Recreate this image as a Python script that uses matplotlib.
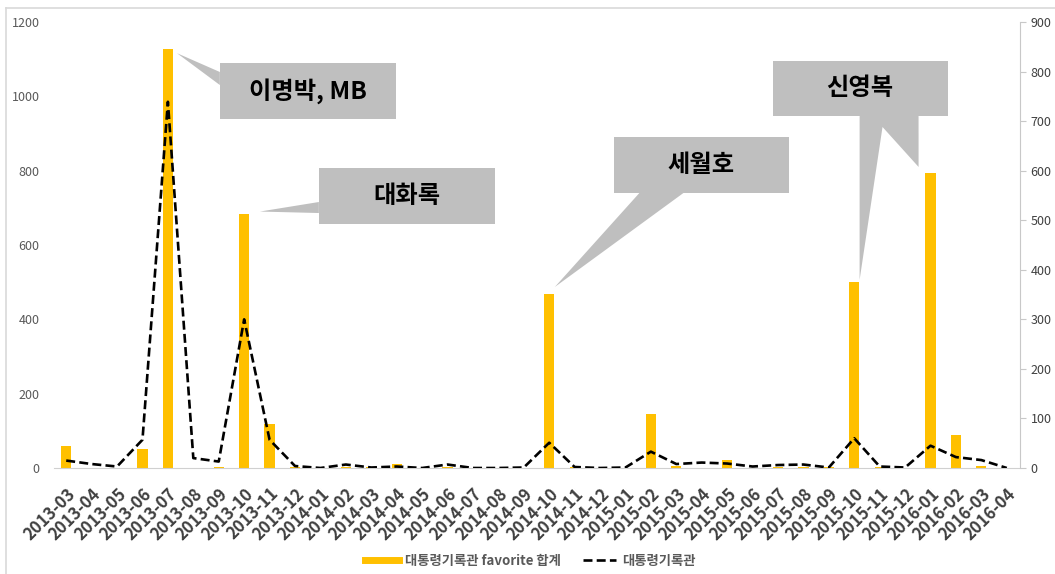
import matplotlib
matplotlib.use("Agg")
import matplotlib.pyplot as plt
from matplotlib.patches import Rectangle, Polygon
from matplotlib.lines import Line2D

plt.rcParams['font.family'] = ['Noto Sans CJK KR', 'DejaVu Sans']

months = ["2013-03", "2013-04", "2013-05", "2013-06", "2013-07", "2013-08", "2013-09",
          "2013-10", "2013-11", "2013-12", "2014-01", "2014-02", "2014-03", "2014-04",
          "2014-05", "2014-06", "2014-07", "2014-08", "2014-09", "2014-10", "2014-11",
          "2014-12", "2015-01", "2015-02", "2015-03", "2015-04", "2015-05", "2015-06",
          "2015-07", "2015-08", "2015-09", "2015-10", "2015-11", "2015-12", "2016-01",
          "2016-02", "2016-03", "2016-04"]
favorite_sum = [58, 0, 0, 51, 1128, 0, 3, 683, 119, 2, 0, 2, 3, 12, 0, 2, 0, 0, 1, 468,
                2, 0, 0, 145, 6, 0, 21, 0, 4, 2, 2, 500, 2, 0, 794, 90, 5, 1]
archive_count = [15, 8, 3, 57, 739, 20, 13, 300, 57, 4, 0, 7, 1, 3, 0, 7, 0, 0, 1, 51,
                 2, 0, 1, 33, 8, 11, 9, 3, 6, 7, 1, 60, 3, 1, 45, 22, 16, 0]
bar_label = "대통령기록관 favorite 합계"
line_label = "대통령기록관"
left_ticks = [0, 200, 400, 600, 800, 1000, 1200]
right_ticks = [0, 100, 200, 300, 400, 500, 600, 700, 800, 900]

# callouts: text, box (axes fraction x0,y0,x1,y1), pointer vertices
# ("a", fx, fy) = axes fraction, ("d", category index, left-axis value) = data
callouts = [
    ("이명박, MB", (0.1722, 0.7825, 0.3543, 0.9081),
     [("a", 0.1722, 0.8879), ("d", 4.36, 1116), ("a", 0.1722, 0.8587)]),
    ("대화록", (0.2747, 0.5471, 0.4568, 0.6726),
     [("a", 0.2747, 0.5964), ("d", 7.62, 690), ("a", 0.2747, 0.5717)]),
    ("세월호", (0.5799, 0.6166, 0.7610, 0.7422),
     [("a", 0.6065, 0.6166), ("d", 19.22, 487), ("a", 0.6521, 0.6166)]),
    ("신영복", (0.7444, 0.7892, 0.9255, 0.9126),
     [("a", 0.8345, 0.7892), ("d", 31.21, 506), ("a", 0.8582, 0.7646),
      ("d", 33.53, 810), ("a", 0.8955, 0.7892)]),
]

W, H = 1055, 574
fig = plt.figure(figsize=(W / 100, H / 100), dpi=100)
ax = fig.add_axes([53.5 / W, (H - 468) / H, (1019.5 - 53.5) / W, 446 / H])
ax2 = ax.twinx()

n = len(months)
x = list(range(n))
ax.bar(x, favorite_sum, width=0.4, color="#FFC000", zorder=2)
ax2.plot(x, archive_count, color="black", lw=1.9, linestyle=(0, (3.4, 1.6)), zorder=3)

ax.set_xlim(-0.5, n - 0.5)
ax.set_ylim(0, 1200)
ax2.set_ylim(0, 900)
ax.set_yticks(left_ticks)
ax2.set_yticks(right_ticks)

for a in (ax, ax2):
    for s in a.spines.values():
        s.set_visible(False)
ax.spines['bottom'].set_visible(True)
ax.spines['bottom'].set_color("#D0D0D0")
ax2.spines['right'].set_visible(True)
ax2.spines['right'].set_color("#C8C8C8")

ax.tick_params(axis='y', length=0, pad=10, labelsize=9, labelcolor="#595959")
ax2.tick_params(axis='y', length=4, color="#C8C8C8", pad=4, labelsize=9, labelcolor="#404040")
ax.set_xticks(x)
ax.set_xticklabels(months, rotation=45, ha='right', rotation_mode='anchor',
                   fontsize=12, fontweight='heavy', color="#404040")
ax.tick_params(axis='x', length=0, pad=12)

ax2.set_zorder(ax.get_zorder() + 1)
ax2.patch.set_visible(False)

def to_frac(p):
    kind, a, b = p
    if kind == "a":
        return (a, b)
    return ((a + 0.5) / n, b / 1200.0)

for text, (x0, y0, x1, y1), pts in callouts:
    ax2.add_patch(Rectangle((x0, y0), x1 - x0, y1 - y0, transform=ax2.transAxes,
                            facecolor="#BFBFBF", edgecolor="none", zorder=5, clip_on=False))
    ax2.add_patch(Polygon([to_frac(p) for p in pts], closed=True, transform=ax2.transAxes,
                          facecolor="#BFBFBF", edgecolor="none", zorder=5, clip_on=False))
    ax2.text((x0 + x1) / 2, (y0 + y1) / 2, text, transform=ax2.transAxes, ha='center',
             va='center', fontsize=17.5, fontweight='heavy', color="black", zorder=6)

handles = [Line2D([], [], color="#FFC000", lw=5),
           Line2D([], [], color="black", lw=1.9, linestyle=(0, (3.4, 1.6)))]
leg = fig.legend(handles, [bar_label, line_label], loc='center',
                 bbox_to_anchor=(0.503, 0.023), ncol=2, frameon=False,
                 handlelength=2.5, columnspacing=1.6, handletextpad=0.5,
                 prop={'size': 9.6, 'weight': 'bold'})
for t in leg.get_texts():
    t.set_color("#595959")

# chart-area border (left and top edges visible)
fig.add_artist(Line2D([6 / W, 6 / W], [0, (H - 8) / H], color="#D9D9D9", lw=1.2,
                      transform=fig.transFigure))
fig.add_artist(Line2D([6 / W, 1], [(H - 8) / H, (H - 8) / H], color="#D9D9D9", lw=1.2,
                      transform=fig.transFigure))

fig.savefig("out.png", dpi=100, facecolor="white")
